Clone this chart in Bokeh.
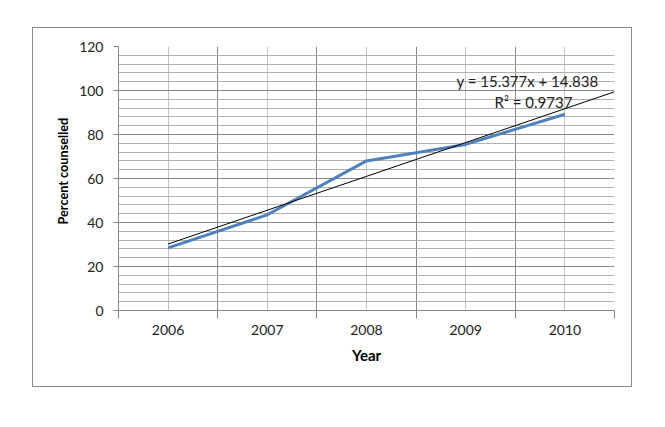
from bokeh.plotting import figure
from bokeh.models import Range1d, FixedTicker, Label, Title
from bokeh.embed import file_html
from bokeh.resources import INLINE

# ---- data ----
years = ["2006", "2007", "2008", "2009", "2010"]
x_pos = [1, 2, 3, 4, 5]
percent = [28.5, 43.5, 68.0, 75.5, 89.2]
trend_slope = 15.377
trend_intercept = 14.838
trend_r2 = 0.9737
trend_forward = 0.5
y_ticks = [0, 20, 40, 60, 80, 100, 120]

FONT = "Lato"
GRID_MAJOR = "#878787"
GRID_MINOR = "#b0b0b0"
GRID_VCENTER = "#c4c4c4"

p = figure(width=600, height=360, output_backend="svg", toolbar_location=None,
           x_range=Range1d(0.5, 5.5), y_range=Range1d(0, 120),
           min_border_left=85, min_border_top=18, min_border_right=19, min_border_bottom=78)
p.margin = (27, 0, 0, 32)
p.styles = {"border": "1px solid #8a8a8a"}
p.outline_line_color = None
p.background_fill_color = "white"
p.border_fill_color = "white"

# x axis
xt = FixedTicker(ticks=x_pos, minor_ticks=[v - 0.5 for v in x_pos] + [x_pos[-1] + 0.5])
p.xaxis.ticker = xt
p.xaxis.major_label_overrides = {x: y for x, y in zip(x_pos, years)}
p.xaxis.major_tick_line_color = None
p.xaxis.major_tick_out = 0
p.xaxis.major_tick_in = 0
p.xaxis.minor_tick_out = 8
p.xaxis.minor_tick_in = 0
p.xaxis.minor_tick_line_color = GRID_MAJOR
p.xaxis.axis_line_color = GRID_MAJOR
p.xaxis.major_label_text_font = FONT
p.xaxis.major_label_text_font_size = "14px"
p.xaxis.major_label_text_color = "#222222"
p.xaxis.major_label_standoff = 6
p.xaxis.axis_label = "Year"
p.xaxis.axis_label_text_font = FONT
p.xaxis.axis_label_text_font_style = "bold"
p.xaxis.axis_label_text_font_size = "15px"
p.xaxis.axis_label_text_color = "black"
p.xaxis.axis_label_standoff = 8

# y axis
yt = FixedTicker(ticks=y_ticks, minor_ticks=[v for v in range(0, 121, 4) if v % 20])
p.yaxis.ticker = yt
p.yaxis.major_tick_out = 5
p.yaxis.major_tick_in = 0
p.yaxis.major_tick_line_color = GRID_MAJOR
p.yaxis.minor_tick_line_color = None
p.yaxis.axis_line_color = GRID_MAJOR
p.yaxis.major_label_text_font = FONT
p.yaxis.major_label_text_font_size = "14px"
p.yaxis.major_label_text_color = "#222222"
p.yaxis.major_label_standoff = 10

# y-axis title as a left-side title
p.add_layout(Title(text="Percent counselled", align="left", offset=86, standoff=11,
                   text_font=FONT, text_font_style="bold", text_font_size="12.7px",
                   text_color="black"), "left")

# grids
p.xgrid.ticker = xt
p.xgrid.grid_line_color = GRID_VCENTER
p.xgrid.minor_grid_line_color = GRID_MAJOR
p.ygrid.ticker = yt
p.ygrid.grid_line_color = GRID_MAJOR
p.ygrid.minor_grid_line_color = GRID_MINOR

# data line
p.line(x_pos, percent, line_color="#4f81bd", line_width=3)

# trend line
tx = [x_pos[0], x_pos[-1] + trend_forward]
ty = [trend_slope * v + trend_intercept for v in tx]
p.line(tx, ty, line_color="black", line_width=1)

p.add_layout(Label(x=4.623, y=104.2, text=f"y = {trend_slope}x + {trend_intercept}",
                   text_font=FONT, text_font_size="15px", text_color="#222222",
                   text_align="center", text_baseline="middle"))
p.add_layout(Label(x=4.683, y=95.0, text=f"R² = {trend_r2}",
                   text_font=FONT, text_font_size="15px", text_color="#222222",
                   text_align="center", text_baseline="middle"))

open("out.html", "w").write(file_html(p, INLINE))
